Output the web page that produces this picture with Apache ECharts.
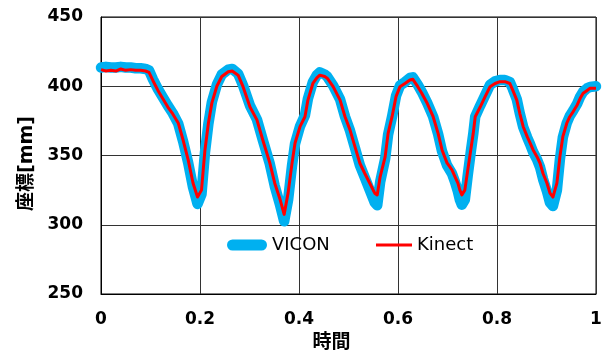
<!DOCTYPE html>
<html>
<head>
<meta charset="utf-8">
<script src="https://cdn.jsdelivr.net/npm/echarts@6/dist/echarts.min.js"></script>
<style>
html,body{margin:0;padding:0;background:#fff;}
#chart{width:613px;height:361px;}
</style>
</head>
<body>
<div id="chart"></div>
<script>
// time axis (normalized)
var time = [0.000,0.010,0.020,0.030,0.040,0.050,0.060,0.070,0.080,0.090,0.097,0.105,0.115,0.125,0.135,0.145,0.156,0.166,0.176,0.186,0.195,0.203,0.210,0.217,0.224,0.234,0.244,0.257,0.265,0.277,0.287,0.301,0.315,0.327,0.341,0.351,0.362,0.370,0.378,0.386,0.392,0.402,0.412,0.418,0.428,0.436,0.442,0.452,0.457,0.469,0.483,0.493,0.503,0.513,0.523,0.533,0.543,0.553,0.558,0.564,0.574,0.580,0.588,0.596,0.604,0.614,0.624,0.630,0.640,0.648,0.659,0.671,0.681,0.689,0.699,0.709,0.715,0.721,0.725,0.729,0.735,0.741,0.747,0.752,0.756,0.766,0.776,0.786,0.796,0.806,0.816,0.826,0.832,0.840,0.846,0.853,0.861,0.867,0.873,0.881,0.887,0.893,0.901,0.907,0.913,0.921,0.927,0.933,0.941,0.947,0.954,0.962,0.968,0.974,0.982,0.988,1.000];
var vicon = [413.5,414,413.5,413.5,414,413.5,413.5,413,413,412.5,411.5,405,398,392,386,380.5,373,360,345,327,315,322,352,373,388.5,401,408.5,412,412.5,409,400.5,386,376,361,344,328,314,302.5,318,343,358.5,371,379,391,403,408,410,408.5,407,400.5,390.5,378,368,355.5,343,334,325,316,314,331,347.5,365,378,393,400.5,403,406,406.5,401,396,388,378,365.5,353,343,337,331,324,318,314.5,318,336,352.5,365.5,378,386,393.5,401,403.5,404.5,404.5,403,398,390.5,380.5,370.5,363,358,352.5,347,341.5,333,324,316,313.5,325,347,363,373.5,378.5,382.5,387.5,392.5,396,398.5,399.5,400];
var kinect = [412,411,411.5,411,412.5,411.5,412,411.5,411.5,411,410,404,397,391,385,380,373.5,361,347,330,320,325,354,373.5,388,400,407,410.5,411,408,399.7,385,375.7,361,344.7,330,318,307.5,323,344.7,359,370.8,378,390,402,406,408,407,405.8,399.7,390,378,368.5,356.4,344.4,337,330,322.8,321.5,334.8,349,366,378,392.5,399.7,402,404.5,405,399.7,395,387.7,378,366,354,344.7,339.6,334.8,330,325,321.6,325,339.6,354,366,378,385,392.5,399.7,402,403.3,403.3,402,397,390,380.5,370.8,363.6,358.9,354,349,344.4,337,330,322.8,320,330,349,363.6,373.3,378,381.7,386.5,391.3,395,397,398.5,398.5];
var xTicks = [0, 0.2, 0.4, 0.6, 0.8, 1];
var yTicks = [250, 300, 350, 400, 450];
var seriesNames = ['VICON', 'Kinect'];
var xTitle = '時間';
var yTitle = '座標[mm]';

function pairs(xs, ys){ return xs.map(function(x,i){ return [x, ys[i]]; }); }

var FONT = 'DejaVu Sans, "Noto Sans CJK JP", sans-serif';
var chart = echarts.init(document.getElementById('chart'), null, {renderer:'canvas'});
chart.setOption({
  animation: false,
  backgroundColor: '#fff',
  grid: {left:101, right:17, top:17, bottom:67, containLabel:false, outerBoundsMode:'none',
         show:true, borderColor:'#000', borderWidth:1, backgroundColor:'transparent'},
  legend: [
    {data:[seriesNames[0]], left:227, top:236, padding:0, itemWidth:40, itemHeight:11,
     icon:'path://M5.5,0 L34.5,0 A5.5,5.5 0 0 1 34.5,11 L5.5,11 A5.5,5.5 0 0 1 5.5,0 Z',
     textStyle:{fontFamily:FONT, fontSize:18, color:'#000'}},
    {data:[seriesNames[1]], left:376, top:236, padding:0, itemWidth:36, itemHeight:3, icon:'rect',
     textStyle:{fontFamily:FONT, fontSize:18, color:'#000'}}
  ],
  xAxis: {
    type:'value', min:xTicks[0], max:xTicks[xTicks.length-1], interval:0.2,
    name:xTitle, nameLocation:'middle', nameGap:40,
    nameTextStyle:{fontFamily:FONT, fontSize:19, fontWeight:'bold', color:'#000', padding:[0,34,0,0]},
    axisLine:{show:true, lineStyle:{color:'#000', width:1}},
    axisTick:{show:false},
    splitLine:{show:true, lineStyle:{color:'#333', width:1}},
    axisLabel:{margin:17, fontFamily:FONT, fontSize:17, fontWeight:'bold', color:'#000',
      formatter:function(v){ return String(Math.round(v*10)/10); }}
  },
  yAxis: {
    type:'value', min:yTicks[0], max:yTicks[yTicks.length-1], interval:50,
    name:yTitle, nameLocation:'middle', nameGap:61,
    nameTextStyle:{fontFamily:FONT, fontSize:19, fontWeight:'bold', color:'#000', padding:[0,16,0,0]},
    axisLine:{show:true, lineStyle:{color:'#000', width:1}},
    axisTick:{show:false},
    splitLine:{show:true, lineStyle:{color:'#333', width:1}},
    axisLabel:{margin:18, fontFamily:FONT, fontSize:17, fontWeight:'bold', color:'#000'}
  },
  series: [
    {name:seriesNames[0], type:'line', data:pairs(time, vicon), showSymbol:false, symbol:'none',
     lineStyle:{color:'#00B0F0', width:10.5, cap:'round', join:'round'}, itemStyle:{color:'#00B0F0'}, z:2},
    {name:seriesNames[1], type:'line', data:pairs(time, kinect), showSymbol:false, symbol:'none',
     lineStyle:{color:'#FF0000', width:3, join:'round'}, itemStyle:{color:'#FF0000'}, z:3}
  ]
});
</script>
</body>
</html>
